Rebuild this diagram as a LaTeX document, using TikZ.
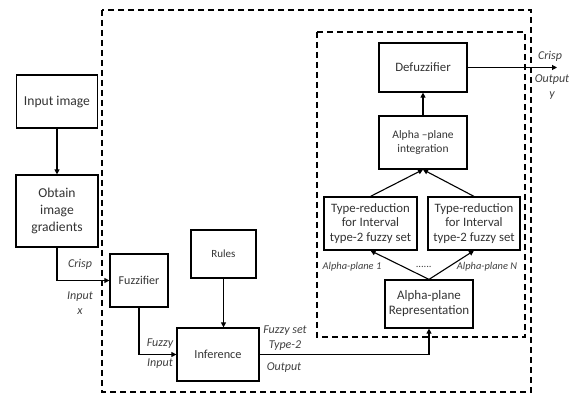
\documentclass[tikz,border=0pt]{standalone}
\usepackage{fontspec}
\setmainfont{Carlito}
\usetikzlibrary{arrows.meta}
\begin{document}
\begin{tikzpicture}[x=1pt,y=-1pt,
  box/.style={draw=black, line width=1.2pt, align=center, inner sep=1pt, text=black!80, font=\fontsize{12.8}{14.5}\selectfont},
  conn/.style={line width=1.1pt, -{Triangle[length=5pt,width=5pt]}},
  dbox/.style={draw=black, line width=1.4pt, dash pattern=on 6pt off 4pt},
  lbl/.style={font=\fontsize{12}{14}\selectfont\itshape, text=black!75, inner sep=0pt},
  slbl/.style={font=\fontsize{10.4}{12}\selectfont\itshape, text=black!75, inner sep=0pt}]
\useasboundingbox (0,0) rectangle (573,395);
% dashed frames
\draw[dbox] (102,10) rectangle (531,392);
\draw[dbox] (317,32) rectangle (525,337);
% boxes
\node[box, minimum width=81pt, minimum height=53pt, font=\fontsize{13.6}{17}\selectfont] (inimg) at (57,101.5) {Input image};
\node[box, minimum width=82pt, minimum height=72pt, font=\fontsize{13.6}{17}\selectfont] (grad) at (57,211) {Obtain\\image\\gradients};
\node[box, minimum width=58pt, minimum height=53pt, font=\fontsize{12}{14}\selectfont] (fuzz) at (139,280.5) {Fuzzifier};
\node[box, minimum width=65pt, minimum height=48pt, font=\fontsize{11}{12}\selectfont] (rules) at (223.5,254) {Rules};
\node[box, minimum width=82pt, minimum height=53pt, font=\fontsize{12.3}{14}\selectfont] (infer) at (218,354.5) {Inference};
\node[box, minimum width=88pt, minimum height=48pt, font=\fontsize{13}{15}\selectfont] (apr) at (429,304) {Alpha-plane\\Representation};
\node[box, minimum width=93pt, minimum height=53pt] (trl) at (370.5,223.5) {Type-reduction\\for Interval\\type-2 fuzzy set};
\node[box, minimum width=92pt, minimum height=53pt] (trr) at (474,223.5) {Type-reduction\\for Interval\\type-2 fuzzy set};
\node[box, minimum width=88pt, minimum height=53pt, font=\fontsize{11.5}{14}\selectfont] (integ) at (423,142.5) {Alpha --plane\\integration};
\node[box, minimum width=88pt, minimum height=49pt, font=\fontsize{12.8}{14}\selectfont] (defuzz) at (423,67.5) {Defuzzifier};
\coordinate (out) at (557,67.5);
% connectors
\draw[conn] (inimg.south) -- (grad.north);
\draw[conn] (grad.south) |- (fuzz.west);
\draw[conn] (fuzz.south) |- (infer.west);
\draw[conn] (rules.south) -- (rules.south |- infer.north);
\draw[conn] (infer.east) -| (apr.south);
\draw[conn] (apr.north) -- (trl.south);
\draw[conn] (apr.north) -- (trr.south);
\draw[conn] (trl.north) -- (integ.south);
\draw[conn] (trr.north) -- (integ.south);
\draw[conn] (integ.north) -- (defuzz.south);
\draw[conn] (defuzz.east) -- (out);
% labels
\node[lbl] (l1) at (80,264) {Crisp};
\node[lbl] (l2) at (80,297) {Input};
\node[lbl] (l3) at (80,312) {x};
\node[lbl] (l4) at (160,344) {Fuzzy};
\node[lbl] (l5) at (160,364) {Input};
\node[lbl] (l6) at (285,331) {Fuzzy set};
\node[lbl] (l7) at (285,346) {Type-2};
\node[lbl] (l8) at (284,368) {Output};
\node[slbl] (l9) at (352,267) {Alpha-plane 1};
\node[slbl] (l10) at (424,267) {......};
\node[slbl] (l11) at (487,267) {Alpha-plane N};
\node[lbl] (l12) at (550,56) {Crisp};
\node[lbl] (l13) at (552,80) {Output};
\node[lbl] (l14) at (552,96) {y};
\end{tikzpicture}
\end{document}
